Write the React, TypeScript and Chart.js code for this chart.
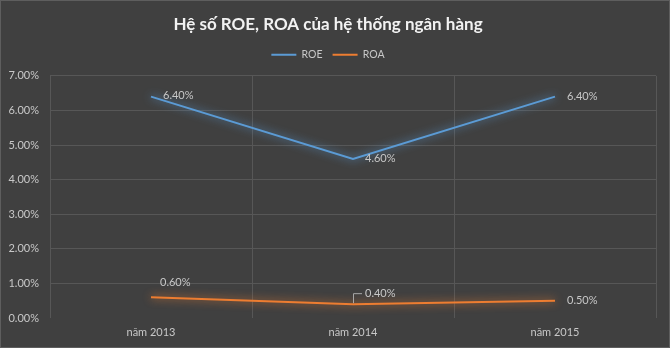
import React, { useEffect, useRef } from "react";
import { Chart, registerables } from "chart.js";

Chart.register(...registerables);

const categories = ["năm 2013", "năm 2014", "năm 2015"];
const roeValues = [6.4, 4.6, 6.4];
const roaValues = [0.6, 0.4, 0.5];
const yTicks = [0, 1, 2, 3, 4, 5, 6, 7];
const titleText = "Hệ số ROE, ROA của hệ thống ngân hàng";

const FONT = "Lato, 'Noto Sans', sans-serif";
const BG = "#404040";
const TEXT = "#c8c8c8";
const GRID = "#575757";
const BLUE = "#5b9bd5";
const ORANGE = "#ed7d31";

const fmt = (v: number) => v.toFixed(2) + "%";

// label placement per dataset/point: [dx, dy, leader]
const labelPlacement: Record<number, [number, number, boolean][]> = {
  0: [
    [12, -1, false],
    [12, 0, false],
    [12, 0, false],
  ],
  1: [
    [9, -15, false],
    [12, -11, true],
    [12, 0, false],
  ],
};

const bgPlugin = {
  id: "bgPlugin",
  beforeDraw(chart: any) {
    const { ctx, width, height } = chart;
    ctx.save();
    ctx.fillStyle = BG;
    ctx.fillRect(0, 0, width, height);
    ctx.strokeStyle = "#5e5e5e";
    ctx.lineWidth = 1;
    ctx.strokeRect(0.5, 0.5, width - 1, height - 1);
    ctx.restore();
  },
};

const glowPlugin = {
  id: "glowPlugin",
  beforeDatasetDraw(chart: any, args: any) {
    const ds = chart.data.datasets[args.index];
    chart.ctx.save();
    chart.ctx.shadowColor = ds.borderColor;
    chart.ctx.shadowBlur = 9;
  },
  afterDatasetDraw(chart: any) {
    chart.ctx.restore();
  },
};

const labelsPlugin = {
  id: "labelsPlugin",
  afterDatasetsDraw(chart: any) {
    const { ctx } = chart;
    ctx.save();
    ctx.font = `11px ${FONT}`;
    ctx.fillStyle = TEXT;
    ctx.textAlign = "left";
    ctx.textBaseline = "middle";
    chart.data.datasets.forEach((ds: any, di: number) => {
      const meta = chart.getDatasetMeta(di);
      meta.data.forEach((pt: any, i: number) => {
        const [dx, dy, leader] = labelPlacement[di][i];
        const x = pt.x + dx;
        const y = pt.y + dy;
        if (leader) {
          ctx.save();
          ctx.strokeStyle = "#a6a6a6";
          ctx.lineWidth = 1;
          ctx.beginPath();
          ctx.moveTo(Math.round(pt.x) + 0.5, pt.y - 1);
          ctx.lineTo(Math.round(pt.x) + 0.5, y + 0.5);
          ctx.lineTo(x - 3, y + 0.5);
          ctx.stroke();
          ctx.restore();
        }
        ctx.fillText(fmt(ds.data[i]), x, y);
      });
    });
    ctx.restore();
  },
};

export default function App() {
  const ref = useRef<HTMLCanvasElement | null>(null);

  useEffect(() => {
    document.body.style.margin = "0";
    document.body.style.background = "#ffffff";
    if (!ref.current) return;
    const chart = new Chart(ref.current, {
      type: "line",
      data: {
        labels: categories,
        datasets: [
          {
            label: "ROE",
            data: roeValues,
            borderColor: BLUE,
            backgroundColor: BLUE,
            borderWidth: 2,
            pointRadius: 0,
            tension: 0,
          },
          {
            label: "ROA",
            data: roaValues,
            borderColor: ORANGE,
            backgroundColor: ORANGE,
            borderWidth: 2,
            pointRadius: 0,
            tension: 0,
          },
        ],
      },
      options: {
        animation: false,
        responsive: false,
        maintainAspectRatio: false,
        layout: { padding: { left: 0, right: 14, top: 0, bottom: 2 } },
        plugins: {
          tooltip: { enabled: false },
          title: {
            display: true,
            text: titleText,
            color: "#f2f2f2",
            font: { family: FONT, size: 17, weight: "bold", lineHeight: 1.2 },
            padding: { top: 14, bottom: 5 },
          },
          subtitle: {
            display: true,
            text: " ",
            font: { size: 1, lineHeight: 1 },
            padding: { top: 0, bottom: 5 },
            weight: 500,
            color: "rgba(0,0,0,0)",
          } as any,
          legend: {
            display: true,
            position: "top",
            labels: {
              color: TEXT,
              font: { family: FONT, size: 10.5 },
              boxWidth: 25,
              boxHeight: 2,
              padding: 10,
              generateLabels: (c: any) =>
                c.data.datasets.map((ds: any, i: number) => ({
                  text: ds.label,
                  fillStyle: ds.borderColor,
                  strokeStyle: ds.borderColor,
                  lineWidth: 0,
                  fontColor: TEXT,
                  hidden: false,
                  datasetIndex: i,
                })),
            },
          },
        },
        scales: {
          x: {
            type: "category",
            offset: true,
            grid: { color: GRID, offset: true, drawTicks: false },
            border: { display: false },
            ticks: { color: TEXT, font: { family: FONT, size: 11 }, padding: 8 },
            afterFit: (s: any) => {
              s.height = 28;
            },
          },
          y: {
            min: 0,
            max: 7,
            afterBuildTicks: (s: any) => {
              s.ticks = yTicks.map((v) => ({ value: v }));
            },
            grid: {
              color: (c: any) => (c.tick && c.tick.value === 0 ? "rgba(0,0,0,0)" : GRID),
              drawTicks: false,
            },
            border: { display: false },
            ticks: {
              color: TEXT,
              font: { family: FONT, size: 11 },
              padding: 11,
              callback: (v: any) => fmt(Number(v)),
            },
            afterFit: (s: any) => {
              s.width = 50;
            },
          },
        },
      },
      plugins: [bgPlugin, glowPlugin, labelsPlugin],
    });
    return () => chart.destroy();
  }, []);

  return (
    <div style={{ width: 670, height: 348 }}>
      <canvas ref={ref} width={670} height={348} style={{ display: "block", width: 670, height: 348 }} />
    </div>
  );
}
